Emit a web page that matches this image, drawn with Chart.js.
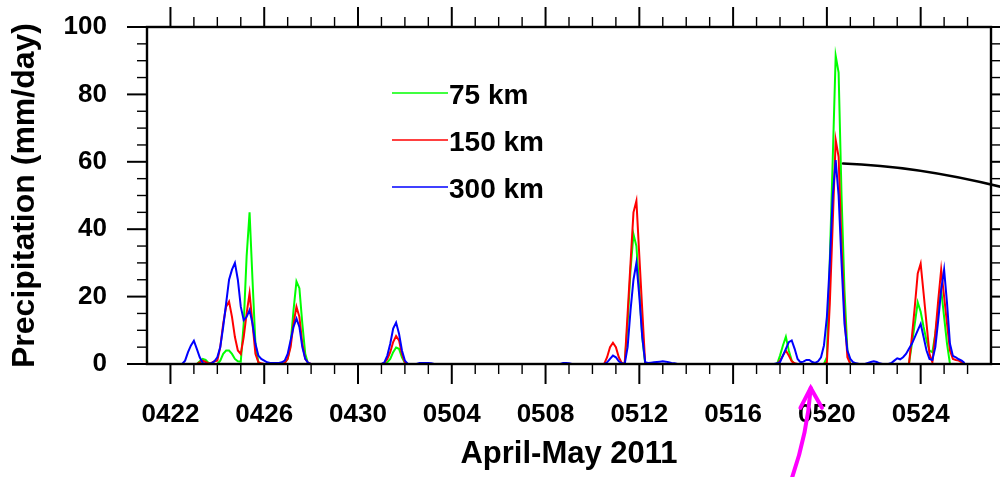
<!DOCTYPE html>
<html lang="en">
<head>
<meta charset="UTF-8">
<title>Precipitation, April-May 2011</title>
<script src="https://cdn.jsdelivr.net/npm/chart.js"></script>
<style>
  html, body { margin: 0; padding: 0; background: #fff; }
  #wrap { width: 1000px; height: 477px; }
</style>
</head>
<body>
<div id="wrap"><canvas id="precip" width="1000" height="477"></canvas></div>
<script>
// 3-hourly precipitation (mm/day), first value 2011-04-22 00Z, one row = one day
const stepsPerDay = 8;

const rain75 = [
  0, 0, 0, 0, 0, 0, 0, 0,            // 0422
  0, 0, 0.8, 1.5, 1.2, 0.3, 0, 0,
  0, 1, 3, 4, 4, 3, 1.5, 0.8,
  0.7, 12, 32, 45, 25, 6, 0.5, 0,
  0, 0, 0, 0, 0, 0, 0, 0.3,          // 0426
  1.5, 6, 16, 24.5, 22.5, 12, 3, 0,
  0, 0, 0, 0, 0, 0, 0, 0,
  0, 0, 0, 0, 0, 0, 0, 0,
  0, 0, 0, 0, 0, 0, 0, 0,            // 0430
  0, 0, 0.5, 1.5, 3.5, 4.9, 4.5, 2,
  0.3, 0, 0, 0, 0, 0, 0, 0,
  0, 0, 0, 0, 0, 0, 0, 0,
  0, 0, 0, 0, 0, 0, 0, 0,            // 0504
  0, 0, 0, 0, 0, 0, 0, 0,
  0, 0, 0, 0, 0, 0, 0, 0,
  0, 0, 0, 0, 0, 0, 0, 0,
  0, 0, 0, 0, 0, 0, 0, 0,            // 0508
  0, 0, 0, 0, 0, 0, 0, 0,
  0, 0, 0, 0, 0, 0, 0, 0,
  0, 0, 0, 0, 12, 28, 38.5, 35,
  22, 8, 0, 0, 0, 0, 0, 0,           // 0512
  0, 0, 0, 0, 0, 0, 0, 0,
  0, 0, 0, 0, 0, 0, 0, 0,
  0, 0, 0, 0, 0, 0, 0, 0,
  0, 0, 0, 0, 0, 0, 0, 0,            // 0516
  0, 0, 0, 0, 0, 0, 0, 0,
  2.5, 5.5, 8.1, 4, 1, 0, 0, 0,
  0, 0, 0, 0, 0, 0, 0, 0,
  2, 31, 61, 91.5, 86.5, 50, 22, 4,  // 0520
  0, 0, 0, 0, 0, 0, 0, 0,
  0, 0, 0, 0, 0, 0, 0, 0,
  0, 0, 0, 0, 0, 6, 12, 18.3,
  15.5, 11, 7, 4, 3.5, 9, 16, 22,    // 0524
  14, 6, 0, 0, 0, 0, 0, 0
];

const rain150 = [
  0, 0, 0, 0, 0, 0, 0, 0,            // 0422
  0, 0, 0.5, 1, 0.6, 0.2, 0.3, 0.8,
  1, 5, 12, 17, 18.5, 14, 8, 4,
  3, 8, 15, 21, 12, 3, 0.5, 0.2,
  0, 0, 0, 0, 0, 0, 0, 0.3,          // 0426
  1.5, 5, 12, 17, 14, 6, 1.5, 0.3,
  0, 0, 0, 0, 0, 0, 0, 0,
  0, 0, 0, 0, 0, 0, 0, 0,
  0, 0, 0, 0, 0, 0, 0, 0,            // 0430
  0, 0.3, 1.5, 3.5, 6.5, 8.3, 7, 3,
  0.5, 0, 0, 0, 0, 0, 0, 0,
  0, 0, 0, 0, 0, 0, 0, 0,
  0, 0, 0, 0, 0, 0, 0, 0,            // 0504
  0, 0, 0, 0, 0, 0, 0, 0,
  0, 0, 0, 0, 0, 0, 0, 0,
  0, 0, 0, 0, 0, 0, 0, 0,
  0, 0, 0, 0, 0, 0, 0, 0,            // 0508
  0, 0, 0, 0, 0, 0, 0, 0,
  0, 0, 0, 0, 0, 2, 5, 6.3,
  5, 2, 0.3, 0, 15, 30, 45, 48.4,
  32, 16, 0, 0, 0, 0, 0, 0,          // 0512
  0, 0, 0, 0, 0, 0, 0, 0,
  0, 0, 0, 0, 0, 0, 0, 0,
  0, 0, 0, 0, 0, 0, 0, 0,
  0, 0, 0, 0, 0, 0, 0, 0,            // 0516
  0, 0, 0, 0, 0, 0, 0, 0,
  1, 2.5, 4, 2.5, 0.8, 0.2, 0, 0,
  0, 0, 0, 0, 0, 0, 0, 0,
  0.5, 18, 42, 66.5, 61.5, 35, 15, 2, // 0520
  0, 0, 0, 0, 0, 0, 0, 0,
  0, 0, 0, 0, 0, 0, 0, 0,
  0, 0, 0, 0, 0, 8, 17, 26.9,
  29.8, 21, 12, 3, 0.5, 9, 19, 28,   // 0524
  20, 12, 4, 1.5, 1.2, 1, 0.5, 0
];

const rain300 = [
  0, 0, 0, 0, 0, 1, 3.5, 5.5,        // 0422
  6.9, 4.5, 2, 0.3, 0, 0, 0.2, 0.8,
  2, 5, 11, 18, 25, 28, 30, 25,
  17, 13, 14, 16, 12, 6, 2.5, 1.5,
  1, 0.5, 0.3, 0.3, 0.3, 0.3, 0.5, 1, // 0426
  3, 7, 11, 13.5, 11, 5, 1.5, 0.3,
  0, 0, 0, 0, 0, 0, 0, 0,
  0, 0, 0, 0, 0, 0, 0, 0,
  0, 0, 0, 0, 0, 0, 0, 0,            // 0430
  0, 0.5, 2.5, 6, 10.5, 12.3, 9, 4,
  1, 0, 0, 0, 0, 0.3, 0.3, 0.3,
  0.3, 0.2, 0, 0, 0, 0, 0, 0,
  0, 0, 0, 0, 0, 0, 0, 0,            // 0504
  0, 0, 0, 0, 0, 0, 0, 0,
  0, 0, 0, 0, 0, 0, 0, 0,
  0, 0, 0, 0, 0, 0, 0, 0,
  0, 0, 0, 0, 0, 0, 0.3, 0.3,        // 0508
  0.2, 0, 0, 0, 0, 0, 0, 0,
  0, 0, 0, 0, 0, 0.5, 1.5, 2.5,
  2, 0.8, 0.2, 0, 5, 16, 25, 30,
  20, 8, 0.5, 0.3, 0.4, 0.5, 0.6, 0.7, // 0512
  0.8, 0.7, 0.5, 0.3, 0.2, 0, 0, 0,
  0, 0, 0, 0, 0, 0, 0, 0,
  0, 0, 0, 0, 0, 0, 0, 0,
  0, 0, 0, 0, 0, 0, 0, 0,            // 0516
  0, 0, 0, 0, 0, 0, 0, 0.2,
  0.5, 2.5, 4.5, 6.5, 7, 4.5, 1.5, 0.5,
  0.7, 1.2, 1.2, 0.6, 0.3, 0.8, 2, 5.5,
  14, 30, 50, 60.5, 50, 30, 12, 4,   // 0520
  1.5, 0.5, 0.2, 0, 0, 0, 0.3, 0.6,
  0.8, 0.6, 0.2, 0, 0, 0, 0.3, 1,
  1.7, 1.4, 2, 3, 4.5, 6, 8, 10,
  11.9, 8, 4, 1.5, 1.2, 5, 13, 22,   // 0524
  28, 18, 6, 2.4, 2, 1.4, 1, 0.3
];

const seriesNames = ['75 km', '150 km', '300 km'];
const seriesColors = ['#00ff00', '#ff0000', '#0000ff'];

// x axis in days after 0422 00Z
const tickDays = [0, 4, 8, 12, 16, 20, 24, 28, 32];
const tickLabels = ['0422', '0426', '0430', '0504', '0508', '0512', '0516', '0520', '0524'];
const yTicks = [0, 20, 40, 60, 80, 100];

const FONT = "'Liberation Sans', Arial, Helvetica, sans-serif";

const toPoints = arr => arr.map((v, i) => ({ x: i / stepsPerDay, y: v }));

// axis frame with NCL-style outward ticks (major every 4 days / 20 mm, minor every day / 5 mm)
const frame = {
  id: 'frame',
  afterDatasetsDraw(chart) {
    const { ctx, chartArea: a, scales: { x, y } } = chart;
    const line = (x1, y1, x2, y2, w) => {
      ctx.lineWidth = w;
      ctx.beginPath(); ctx.moveTo(x1, y1); ctx.lineTo(x2, y2); ctx.stroke();
    };
    ctx.save();
    ctx.strokeStyle = '#000';
    for (let d = 0; d <= 34; d++) {
      const px = x.getPixelForValue(d);
      const major = d % 4 === 0;
      const len = major ? 20 : 10;
      line(px, a.bottom, px, a.bottom + len, major ? 2 : 1.4);
      line(px, a.top, px, a.top - len, major ? 2 : 1.4);
    }
    for (let v = 0; v <= 100; v += 5) {
      const py = y.getPixelForValue(v);
      const major = v % 20 === 0;
      line(a.left, py, a.left - (major ? 20 : 10), py, major ? 2 : 1.4);
      line(a.right, py, a.right + (major ? 20 : 10), py, major ? 2 : 1.4);
    }
    ctx.lineWidth = 2.4;
    ctx.strokeRect(a.left, a.top, a.right - a.left, a.bottom - a.top);
    ctx.restore();
  }
};

const legendBox = {
  id: 'legendBox',
  afterDraw(chart) {
    const { ctx, chartArea: a } = chart;
    ctx.save();
    ctx.font = 'bold 28px ' + FONT;
    ctx.textBaseline = 'alphabetic';
    seriesNames.forEach((name, k) => {
      const yy = a.top + 66 + k * 47;
      ctx.strokeStyle = seriesColors[k];
      ctx.lineWidth = 1.5;
      ctx.beginPath(); ctx.moveTo(a.left + 245, yy); ctx.lineTo(a.left + 301, yy); ctx.stroke();
      ctx.fillStyle = '#000';
      ctx.fillText(name, a.left + 302, yy + 10.5);
    });
    ctx.restore();
  }
};

// hand-drawn marks on the figure (given in axis units: days, mm/day)
const marks = {
  id: 'marks',
  afterDraw(chart) {
    const { ctx, scales: { x, y } } = chart;
    const P = (d, v) => [x.getPixelForValue(d), y.getPixelForValue(v)];
    ctx.save();
    ctx.lineCap = 'round';
    // black pointer curve
    let p0 = P(28.69, 59.5), p1 = P(32.0, 58.7), p2 = P(35.8, 51.9);
    ctx.strokeStyle = '#000';
    ctx.lineWidth = 2.5;
    ctx.beginPath(); ctx.moveTo(...p0); ctx.quadraticCurveTo(...p1, ...p2); ctx.stroke();
    // magenta arrow
    p0 = P(26.48, -34.4); p1 = P(27.17, -20.8); p2 = P(27.31, -7.1);
    ctx.strokeStyle = '#ff00ff';
    ctx.lineWidth = 4;
    ctx.beginPath(); ctx.moveTo(...p0); ctx.quadraticCurveTo(...p1, ...p2); ctx.stroke();
    const w1 = P(26.87, -13.0), w2 = P(27.79, -13.0);
    ctx.beginPath(); ctx.moveTo(...w1); ctx.lineTo(...p2); ctx.lineTo(...w2); ctx.stroke();
    ctx.restore();
  }
};

new Chart(document.getElementById('precip'), {
  type: 'line',
  data: {
    datasets: [rain75, rain150, rain300].map((arr, k) => ({
      label: seriesNames[k],
      data: toPoints(arr),
      borderColor: seriesColors[k],
      borderWidth: 2,
      pointRadius: 0,
      tension: 0,
      fill: false,
      order: 3 - k
    }))
  },
  options: {
    responsive: false,
    animation: false,
    devicePixelRatio: 1,
    layout: { padding: { top: 27, right: 9, left: 0, bottom: 0 } },
    plugins: { legend: { display: false }, tooltip: { enabled: false } },
    scales: {
      x: {
        type: 'linear', min: -1, max: 35,
        afterFit(s) { s.height = 113; s.paddingLeft = 0; s.paddingRight = 0; },
        afterBuildTicks(s) { s.ticks = tickDays.map(v => ({ value: v })); },
        grid: { display: false, drawTicks: false },
        border: { display: false },
        ticks: {
          padding: 35, maxRotation: 0, autoSkip: false, color: '#000',
          font: { family: FONT, size: 26, weight: 'bold' },
          callback: v => tickLabels[tickDays.indexOf(v)]
        },
        title: {
          display: true, text: 'April-May 2011', color: '#000',
          font: { family: FONT, size: 31, weight: 'bold' },
          padding: { top: 0, bottom: 4 }
        }
      },
      y: {
        min: 0, max: 100,
        // the large label padding must not push the plot area down
        afterFit(s) { s.width = 147; s.paddingTop = 0; s.paddingBottom = 0; },
        afterBuildTicks(s) { s.ticks = yTicks.map(v => ({ value: v })); },
        grid: { display: false, drawTicks: false },
        border: { display: false },
        ticks: {
          padding: 40, color: '#000',
          font: { family: FONT, size: 26, weight: 'bold' }
        },
        title: {
          display: true, text: 'Precipitation (mm/day)', color: '#000',
          font: { family: FONT, size: 32, weight: 'bold' },
          padding: { top: 6, bottom: 0 }
        }
      }
    }
  },
  plugins: [frame, legendBox, marks]
});
</script>
</body>
</html>
